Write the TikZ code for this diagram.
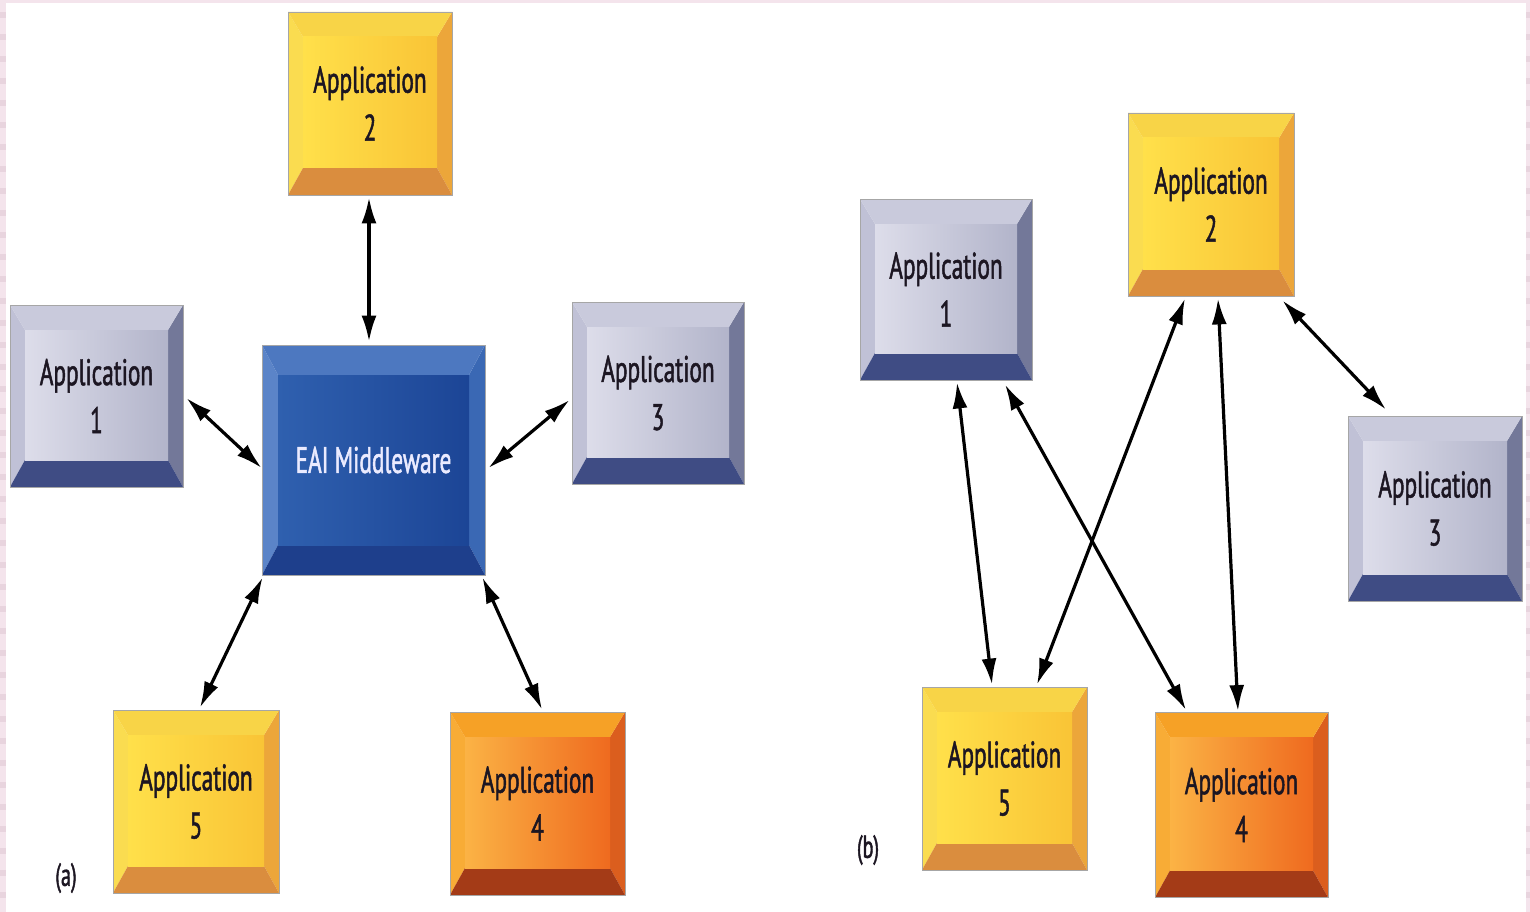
\documentclass[tikz,border=0pt]{standalone}
\usepackage{fontspec}
\setmainfont{PT Sans}[FakeStretch=0.63, FakeBold=1.3]
\usetikzlibrary{arrows.meta,calc}
\definecolor{pinkb}{HTML}{F4E4EC}
\definecolor{pinkd}{HTML}{E8D4DE}
\definecolor{txt}{HTML}{1C1622}
% gray-blue
\definecolor{gT}{HTML}{C9CADC}
\definecolor{gL}{HTML}{C0C1D6}
\definecolor{gR}{HTML}{737899}
\definecolor{gB}{HTML}{3F4C84}
\definecolor{gF1}{HTML}{DDDDEA}
\definecolor{gF2}{HTML}{B2B4CA}
% yellow
\definecolor{yT}{HTML}{F8D447}
\definecolor{yL}{HTML}{FADC50}
\definecolor{yR}{HTML}{ECA63A}
\definecolor{yB}{HTML}{DA8D3E}
\definecolor{yF1}{HTML}{FFE04A}
\definecolor{yF2}{HTML}{F9C436}
% orange
\definecolor{oT}{HTML}{F6A126}
\definecolor{oL}{HTML}{F8AC36}
\definecolor{oR}{HTML}{DB5E1E}
\definecolor{oB}{HTML}{A43B17}
\definecolor{oF1}{HTML}{FBB345}
\definecolor{oF2}{HTML}{EF6A1F}
% blue
\definecolor{bT}{HTML}{4D78C0}
\definecolor{bL}{HTML}{5B84C8}
\definecolor{bR}{HTML}{3A68B4}
\definecolor{bB}{HTML}{1E3F8C}
\definecolor{bF1}{HTML}{2F60AF}
\definecolor{bF2}{HTML}{1C4596}
\begin{document}
\begin{tikzpicture}[x=1pt,y=-1pt]
\def\bvs{15}\def\bvt{25}\def\bvb{27}
\tikzset{
  bvs/.code={\def\bvs{#1}}, bvt/.code={\def\bvt{#1}}, bvb/.code={\def\bvb{#1}},
  box/.style={rectangle, draw=black!35, line width=0.8pt, inner sep=0pt, align=center,
    font=\fontsize{37pt}{48pt}\selectfont, text=txt},
  bev/.style n args={6}{path picture={
    \coordinate (pNW) at (path picture bounding box.north west);
    \coordinate (pSE) at (path picture bounding box.south east);
    \coordinate (pNE) at (pSE |- pNW);
    \coordinate (pSW) at (pNW |- pSE);
    \coordinate (qNW) at ($(pNW)+(\bvs,\bvt)$);
    \coordinate (qNE) at ($(pNE)+(-\bvs,\bvt)$);
    \coordinate (qSW) at ($(pSW)+(\bvs,-\bvb)$);
    \coordinate (qSE) at ($(pSE)+(-\bvs,-\bvb)$);
    \fill[#2] (pNW) -- (qNW) -- (qSW) -- (pSW) -- cycle;
    \fill[#3] (pNE) -- (qNE) -- (qSE) -- (pSE) -- cycle;
    \fill[#1] (pNW) -- (pNE) -- (qNE) -- (qNW) -- cycle;
    \fill[#4] (pSW) -- (pSE) -- (qSE) -- (qSW) -- cycle;
    \shade[left color=#5, right color=#6] (qNW) rectangle (qSE);
  }},
  grayb/.style={box, bev={gT}{gL}{gR}{gB}{gF1}{gF2}},
  yellb/.style={box, bev={yT}{yL}{yR}{yB}{yF1}{yF2}},
  orngb/.style={box, bev={oT}{oL}{oR}{oB}{oF1}{oF2}},
  blueb/.style={box, bev={bT}{bL}{bR}{bB}{bF1}{bF2}, text=white!92!blue, bvs=16, bvt=30, bvb=30},
  conn/.style={{Latex[length=26pt,width=15pt]}-{Latex[length=26pt,width=15pt]}, line width=3.2pt, black},
  lbl/.style={font=\fontsize{32pt}{38pt}\selectfont, text=txt, inner sep=0pt}
}
\useasboundingbox (0,0) rectangle (1530,912);
\fill[white] (0,0) rectangle (1530,912);
% pink frame
\fill[pinkb] (0,0) rectangle (6,912);
\fill[pinkb] (0,0) rectangle (1530,3);
\fill[pinkb] (1526,0) rectangle (1530,912);
\foreach \yy in {12,34,56,78,...,900} {
  \fill[pinkd] (0,\yy) rectangle (6,\yy+6);
  \fill[pinkd] (1526,\yy) rectangle (1530,\yy+6);
}
% ---- (a) ----
\node[yellb, minimum width=164pt, minimum height=183pt] (a2) at (370,103.5) {Application\\2};
\node[grayb, minimum width=173pt, minimum height=182pt] (a1) at (96.5,396) {Application\\1};
\node[blueb, minimum width=223pt, minimum height=230pt] (am) at (373.5,460) {EAI Middleware};
\node[grayb, minimum width=172pt, minimum height=182pt] (a3) at (658,393) {Application\\3};
\node[yellb, minimum width=166pt, minimum height=183pt] (a5) at (196,801.5) {Application\\5};
\node[orngb, minimum width=175pt, minimum height=183pt] (a4) at (537.5,803.5) {Application\\4};
\node[lbl] (la) at (66,878) {(a)};
\draw[conn] ($(a2.south)+(-1,2)$) -- ($(am.north)+(-4.5,-3)$);
\draw[conn] ($(a1.east)+(3,2)$) -- ($(am.west)+(0,8)$);
\draw[conn] ($(am.east)+(3,8)$) -- ($(a3.west)+(-2,7)$);
\draw[conn] ($(am.south west)+(1,2)$) -- ($(a5.north)+(4,-2)$);
\draw[conn] ($(am.south east)+(-3,2)$) -- ($(a4.north)+(4.5,-2)$);
% ---- (b) ----
\node[grayb, minimum width=172pt, minimum height=181pt] (b1) at (946,289.5) {Application\\1};
\node[yellb, minimum width=166pt, minimum height=183pt] (b2) at (1211,204.5) {Application\\2};
\node[grayb, minimum width=174pt, minimum height=185pt] (b3) at (1435,508.5) {Application\\3};
\node[yellb, minimum width=165pt, minimum height=183pt] (b5) at (1004.5,778.5) {Application\\5};
\node[orngb, minimum width=173pt, minimum height=185pt] (b4) at (1241.5,805) {Application\\4};
\node[lbl] (lb) at (868,850) {(b)};
\draw[conn] ($(b1.south)+(11,2)$) -- ($(b5.north)+(-12.5,-2)$);
\draw[conn] ($(b1.south)+(59,4)$) -- ($(b4.north)+(-55.5,-2)$);
\draw[conn] ($(b2.south)+(-26,2)$) -- ($(b5.north)+(32.5,-2)$);
\draw[conn] ($(b2.south)+(7,2)$) -- ($(b4.north)+(-3.5,-1)$);
\draw[conn] ($(b2.south east)+(-12,4)$) -- ($(b3.north)+(-49,-6)$);
\end{tikzpicture}
\end{document}
